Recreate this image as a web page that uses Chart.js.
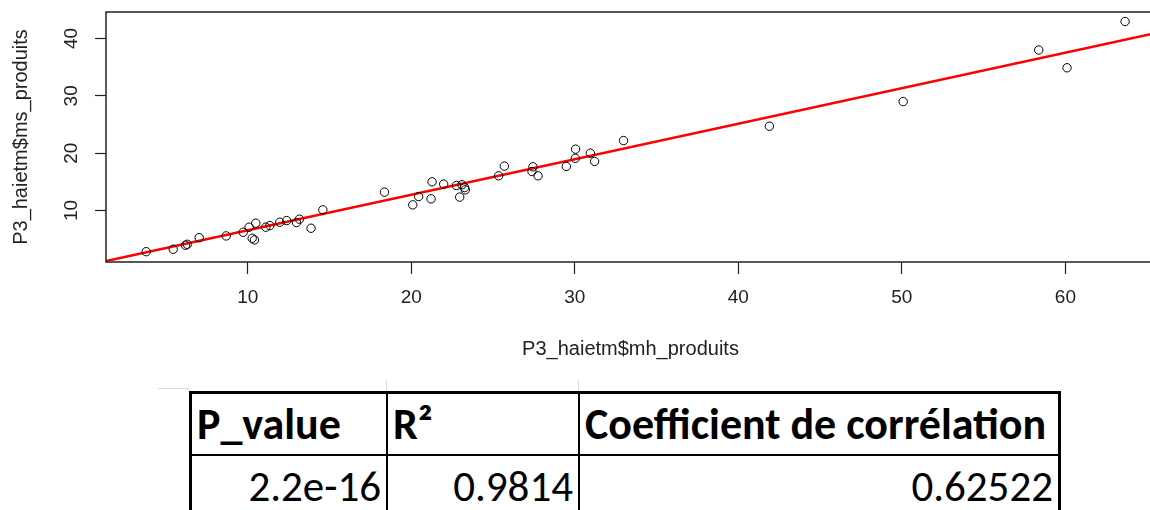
<!DOCTYPE html>
<html>
<head>
<meta charset="utf-8">
<script src="https://cdn.jsdelivr.net/npm/chart.js@4.4.1/dist/chart.umd.min.js"></script>
<style>
  html, body { margin: 0; padding: 0; background: #fff; overflow: hidden; }
  body { width: 1150px; height: 510px; position: relative; }
  #wrap { position: absolute; left: 0; top: 0; width: 1170px; height: 375px; }
  .grid { position: absolute; background: #d9d9d9; }
  #stats {
    position: absolute; left: 189px; top: 391px;
    border-collapse: collapse; border: 3px solid #000;
    font-family: Calibri, Carlito, "Open Sans", sans-serif; color: #000;
    table-layout: fixed;
  }
  #stats td { border: 2px solid #000; padding: 0 5px; white-space: nowrap; overflow: hidden; line-height: 1; }
  #stats tr.head td { height: 60px; font-weight: bold; font-size: 44px; text-align: left; }
  #stats tr.body td { height: 60px; font-size: 43px; text-align: right; }
</style>
</head>
<body>
<div id="wrap"><canvas id="myChart" width="1170" height="375"></canvas></div>

<div class="grid" style="left:158px;top:388px;width:32px;height:1px"></div>
<div class="grid" style="left:386px;top:380px;width:1px;height:12px"></div>
<div class="grid" style="left:578px;top:380px;width:1px;height:12px"></div>

<table id="stats">
  <tr class="head"><td style="width:184px">P_value</td><td style="width:180px">R²</td><td style="width:468px">Coefficient de corrélation</td></tr>
  <tr class="body"><td>2.2e-16</td><td>0.9814</td><td>0.62522</td></tr>
</table>

<script>
// P3_haietm$mh_produits (x) and P3_haietm$ms_produits (y)
var mhProduits = [3.79, 5.44, 6.19, 6.3, 7.03, 8.68, 9.72, 10.08, 10.49, 10.27, 10.41, 11.1, 11.35, 11.96,
    12.38, 12.98, 13.16, 13.87, 14.59, 18.36, 20.09, 20.45, 21.27, 21.21, 21.98, 22.76, 22.96, 23.1,
    23.26, 23.3, 25.34, 25.69, 27.44, 27.38, 27.75, 29.48, 30.05, 30.03, 30.95, 31.21, 32.98, 41.9,
    50.08, 58.37, 60.1, 63.65];
var msProduits = [2.81, 3.23, 3.93, 4.1, 5.26, 5.56, 6.2, 7.08, 7.78, 5.15, 4.86, 7.08, 7.36, 7.95,
    8.24, 7.89, 8.48, 6.9, 10.1, 13.2, 10.98, 12.43, 15.0, 12.03, 14.6, 14.36, 12.33, 14.48,
    14.0, 13.6, 16.05, 17.74, 17.62, 16.8, 16.05, 17.68, 20.7, 19.1, 20.0, 18.56, 22.2, 24.7,
    29.0, 38.0, 34.9, 42.97];

// fitted line: intercept, slope
var fitLine = [0.35, 0.62];

var xTicks = [10, 20, 30, 40, 50, 60];
var yTicks = [10, 20, 30, 40];
var xRange = [1.33, 65.48];
var yRange = [1.01, 44.63];

var points = mhProduits.map(function (x, i) { return { x: x, y: msProduits[i] }; });
var linePts = xRange.map(function (x) { return { x: x, y: fitLine[0] + fitLine[1] * x }; });

var boxPlugin = {
    id: 'box',
    afterDraw: function (chart) {
        var c = chart.ctx, a = chart.chartArea;
        c.save();
        c.strokeStyle = '#222';
        c.lineWidth = 1.5;
        c.strokeRect(a.left, a.top, a.right - a.left, a.bottom - a.top);
        // y tick labels, rotated like R
        var ys = chart.scales.y;
        c.fillStyle = '#222';
        c.font = '19px "Liberation Sans", Arial, sans-serif';
        c.textAlign = 'center';
        c.textBaseline = 'middle';
        ys.ticks.forEach(function (t) {
            c.save();
            c.translate(72, ys.getPixelForValue(t.value));
            c.rotate(-Math.PI / 2);
            c.fillText(String(t.value), 0, 0);
            c.restore();
        });
        c.restore();
    }
};

var ctx = document.getElementById('myChart').getContext('2d');
var myChart = new Chart(ctx, {
    type: 'scatter',
    data: {
        datasets: [{
            data: linePts,
            type: 'line',
            showLine: true,
            borderColor: '#ff0000',
            borderWidth: 2.5,
            pointRadius: 0,
            order: 2
        }, {
            data: points,
            pointStyle: 'circle',
            pointRadius: 4.2,
            borderWidth: 1,
            borderColor: '#000',
            backgroundColor: 'rgba(0,0,0,0)',
            order: 1
        }]
    },
    options: {
        responsive: false,
        animation: false,
        events: [],
        layout: { padding: { top: 12, right: 15, left: 0, bottom: 0 } },
        plugins: { legend: { display: false }, tooltip: { enabled: false } },
        scales: {
            x: {
                type: 'linear',
                min: xRange[0],
                max: xRange[1],
                afterBuildTicks: function (s) { s.ticks = xTicks.map(function (v) { return { value: v }; }); },
                afterFit: function (s) { s.height = 113; },
                border: { display: false },
                grid: { drawOnChartArea: false, drawTicks: true, tickLength: 12, color: '#222', tickWidth: 1.2 },
                ticks: { color: '#222', padding: 12, font: { family: '"Liberation Sans", Arial, sans-serif', size: 19 } },
                title: {
                    display: true,
                    text: 'P3_haietm$mh_produits',
                    color: '#222',
                    font: { family: '"Liberation Sans", Arial, sans-serif', size: 20 },
                    padding: { top: 0, bottom: 14 }
                }
            },
            y: {
                type: 'linear',
                min: yRange[0],
                max: yRange[1],
                afterBuildTicks: function (s) { s.ticks = yTicks.map(function (v) { return { value: v }; }); },
                afterFit: function (s) { s.width = 106; },
                border: { display: false },
                grid: { drawOnChartArea: false, drawTicks: true, tickLength: 11, color: '#222', tickWidth: 1.2 },
                ticks: { display: false },
                title: {
                    display: true,
                    text: 'P3_haietm$ms_produits',
                    color: '#222',
                    font: { family: '"Liberation Sans", Arial, sans-serif', size: 20 },
                    padding: { top: 9, bottom: 0 }
                }
            }
        }
    },
    plugins: [boxPlugin]
});
</script>
</body>
</html>
